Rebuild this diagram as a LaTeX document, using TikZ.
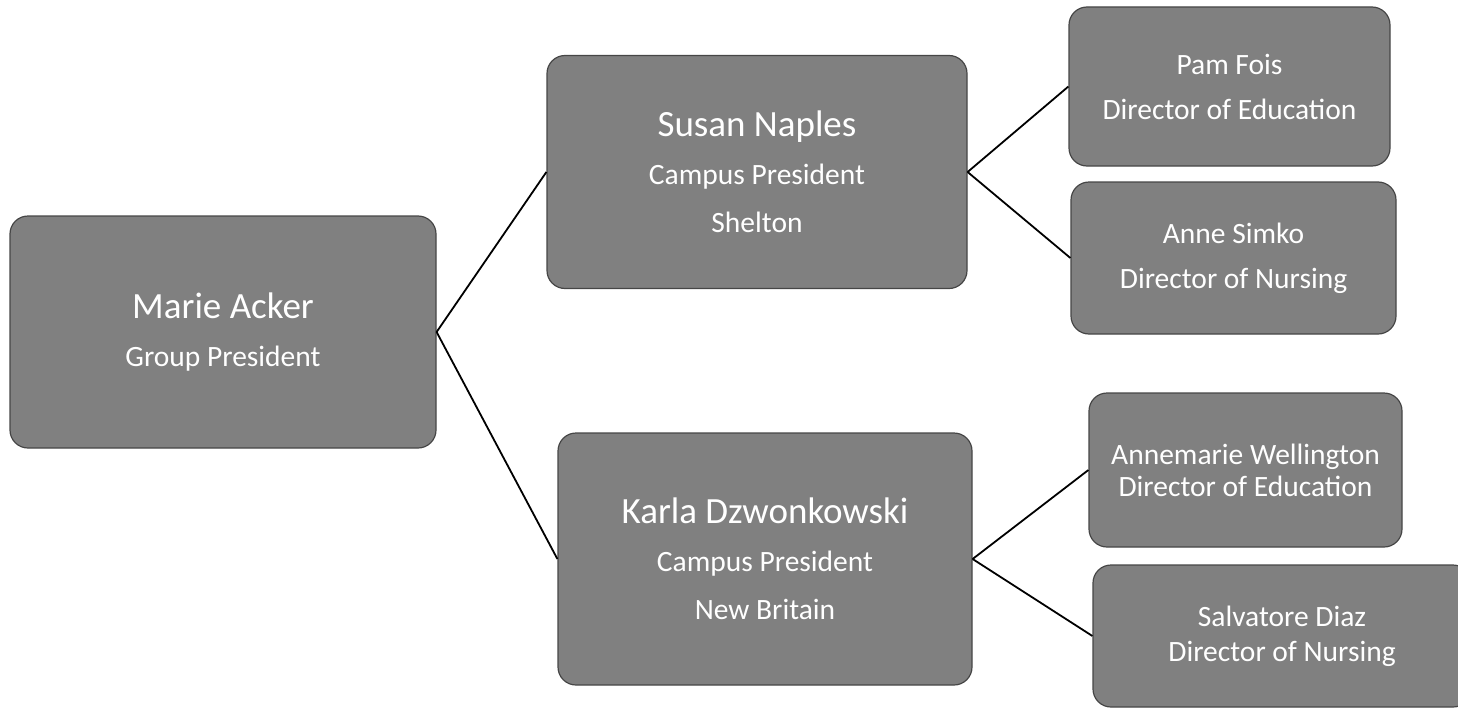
\documentclass[tikz,border=0pt]{standalone}
\usepackage{fontspec}
\setmainfont{Carlito}
\definecolor{boxfill}{RGB}{128,128,128}
\definecolor{boxline}{RGB}{70,70,70}
\begin{document}
\begin{tikzpicture}[x=1pt,y=-1pt,
  orgbox/.style={draw=boxline, line width=1.2pt, fill=boxfill, rounded corners=18pt,
    text=white, align=center, inner sep=0pt, anchor=center},
  big/.style={orgbox, font=\fontsize{29.5}{48}\selectfont},
  small/.style={orgbox, font=\fontsize{29.5}{45}\selectfont},
  conn/.style={draw=black, line width=1.8pt}]
\useasboundingbox (0,0) rectangle (1458,709);
\clip (0,0) rectangle (1458,709);
\node[big, minimum width=426pt, minimum height=232pt] (marie) at (223,332)
  {{\fontsize{37}{42}\selectfont Marie Acker}\\Group President};
\node[big, minimum width=420pt, minimum height=233pt] (susan) at (757,172)
  {{\fontsize{37}{42}\selectfont Susan Naples}\\Campus President\\Shelton};
\node[big, minimum width=414pt, minimum height=252pt] (karla) at (765,559)
  {{\fontsize{37}{42}\selectfont Karla Dzwonkowski}\\Campus President\\New Britain};
\node[small, minimum width=321pt, minimum height=159pt] (pam) at (1229.5,86.5)
  {Pam Fois\\Director of Education};
\node[small, minimum width=325pt, minimum height=152pt] (anne) at (1233.5,258)
  {Anne Simko\\Director of Nursing};
\node[orgbox, font=\fontsize{29.5}{32}\selectfont, minimum width=313pt, minimum height=154pt] (annemarie) at (1245.5,470)
  {Annemarie Wellington\\Director of Education};
\node[orgbox, font=\fontsize{29.5}{35}\selectfont, minimum width=378pt, minimum height=142pt] (salvatore) at (1282,636)
  {Salvatore Diaz\\Director of Nursing};
\draw[conn] (marie.east) -- (susan.west);
\draw[conn] (marie.east) -- (karla.west);
\draw[conn] (susan.east) -- (pam.west);
\draw[conn] (susan.east) -- (anne.west);
\draw[conn] (karla.east) -- (annemarie.west);
\draw[conn] (karla.east) -- (salvatore.west);
\end{tikzpicture}
\end{document}
